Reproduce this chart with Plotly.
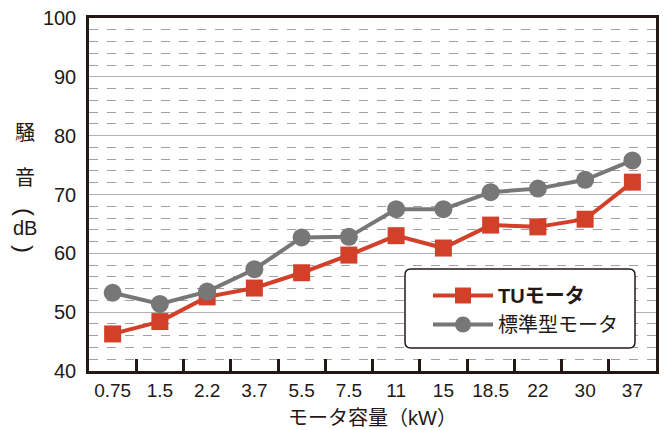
import plotly.graph_objects as go

categories = ["0.75", "1.5", "2.2", "3.7", "5.5", "7.5", "11", "15", "18.5", "22", "30", "37"]
tu_motor = [46.3, 48.4, 52.6, 54.1, 56.7, 59.7, 63.0, 60.9, 64.8, 64.5, 65.8, 72.1]
std_motor = [53.3, 51.4, 53.5, 57.3, 62.7, 62.8, 67.5, 67.5, 70.4, 71.0, 72.5, 75.8]
y_ticks = [40, 50, 60, 70, 80, 90, 100]

RED = "#d2402a"
GRAY = "#777777"
DARK = "#231815"
FONT = "Liberation Sans, Noto Sans CJK JP, sans-serif"

# page body has an 8px margin; plot area targets: left 89, top 18, right 656, bottom 371
OFF = 8
PL, PT, PR, PB = 89, 18, 656, 371
PW, PH = PR - PL, PB - PT

fig = go.Figure()
fig.add_trace(go.Scatter(
    x=categories, y=tu_motor, name="<b>TUモータ</b>", mode="lines+markers",
    line=dict(color=RED, width=4), marker=dict(symbol="square", size=17, color=RED)))
fig.add_trace(go.Scatter(
    x=categories, y=std_motor, name="標準型モータ", mode="lines+markers",
    line=dict(color=GRAY, width=4), marker=dict(symbol="circle", size=18, color=GRAY)))

# rounded legend frame (paper coords)
x0, x1 = (405 - PL) / PW, (635 - PL) / PW
y0, y1 = (PB - 348) / PH, (PB - 269) / PH
rx, ry = 6 / PW, 6 / PH
path = (f"M{x0+rx},{y1} L{x1-rx},{y1} Q{x1},{y1} {x1},{y1-ry} L{x1},{y0+ry} Q{x1},{y0} {x1-rx},{y0} "
        f"L{x0+rx},{y0} Q{x0},{y0} {x0},{y0+ry} L{x0},{y1-ry} Q{x0},{y1} {x0+rx},{y1} Z")
fig.add_shape(type="path", path=path, xref="paper", yref="paper",
              fillcolor="white", line=dict(color=DARK, width=1.5), layer="above")

# y axis title (vertical)
ytitle = [("騒", 133, 20, 0), ("音", 178, 20, 0), ("(", 212, 24, 90), ("dB", 228, 20, 0), (")", 249, 24, 90)]
for t, py, fs, ang in ytitle:
    fig.add_annotation(text=t, xref="paper", yref="paper", x=(25 - PL) / PW, y=(PB - py) / PH,
                       showarrow=False, xanchor="center", yanchor="middle", textangle=ang,
                       font=dict(size=fs, color=DARK, family=FONT))

fig.update_layout(
    width=667 - OFF, height=430 - OFF,
    margin=dict(l=PL - OFF, r=667 - PR, t=PT - OFF, b=430 - PB),
    paper_bgcolor="white", plot_bgcolor="white",
    font=dict(family=FONT, size=19, color=DARK),
    showlegend=True,
    legend=dict(x=(428 - PL) / PW, y=(PB - 276) / PH, xanchor="left", yanchor="top",
                bgcolor="rgba(0,0,0,0)", borderwidth=0,
                font=dict(size=20, color=DARK, family=FONT),
                itemwidth=60, tracegroupgap=4),
    xaxis=dict(
        type="category", range=[-0.5, 11.5], tickson="boundaries",
        ticks="inside", ticklen=12, tickwidth=2.5, tickcolor=DARK,
        showline=True, linecolor=DARK, linewidth=2.5, mirror=True,
        showgrid=False, zeroline=False, tickangle=0, automargin=False,
        title=dict(text="モータ容量（kW）", font=dict(size=20, color=DARK), standoff=12),
        tickfont=dict(size=19, color=DARK),
    ),
    yaxis=dict(
        range=[40, 100], tickvals=y_ticks, ticks="", ticklabelstandoff=6, automargin=False,
        ticklabeloverflow="allow",
        showline=True, linecolor=DARK, linewidth=2.5, mirror=True,
        showgrid=True, gridcolor="#b0b0b0", gridwidth=1.2, zeroline=False,
        tickfont=dict(size=20, color=DARK),
        minor=dict(dtick=2, tick0=40, showgrid=True, gridcolor="#a0a0a0",
                   griddash="dash", gridwidth=1, ticks=""),
    ),
)

fig.write_html("out.html")
